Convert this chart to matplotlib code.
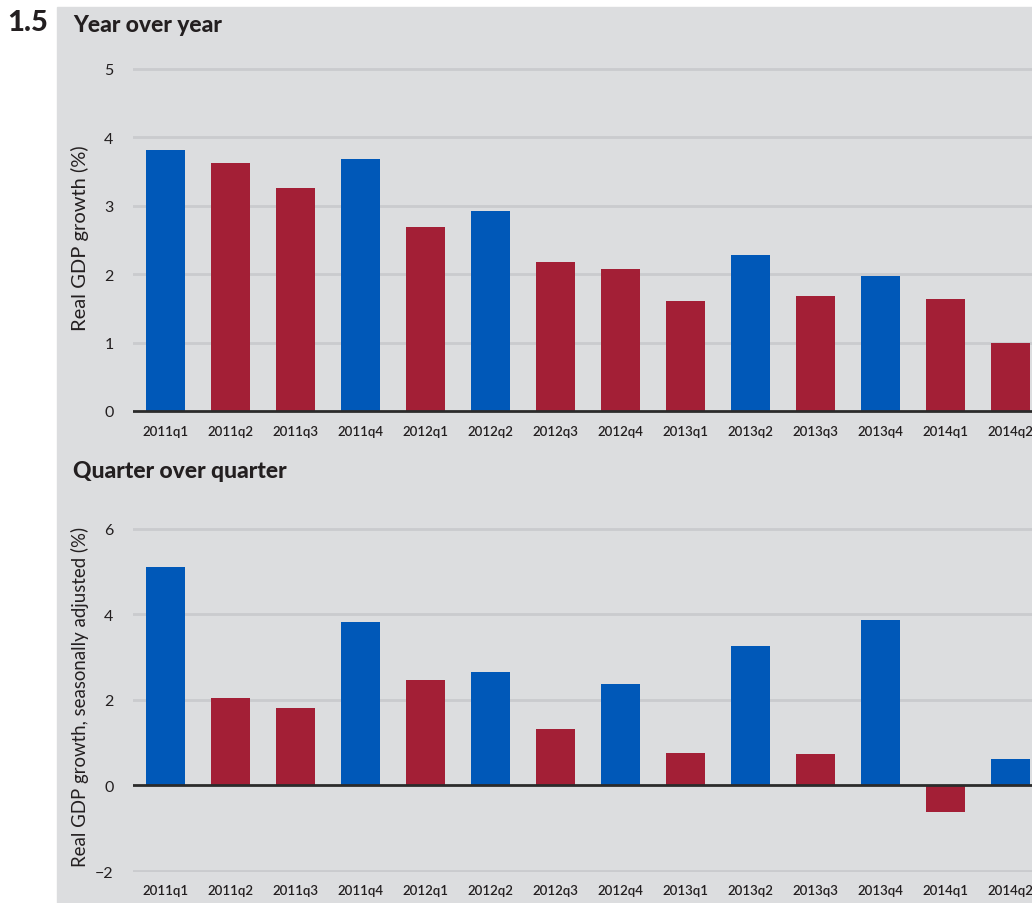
import numpy as np
import matplotlib.pyplot as plt
from matplotlib.patches import Rectangle

# quarters and growth rates
quarters = ['2011q1', '2011q2', '2011q3', '2011q4', '2012q1', '2012q2', '2012q3',
            '2012q4', '2013q1', '2013q2', '2013q3', '2013q4', '2014q1', '2014q2']
yoy = [3.82, 3.63, 3.26, 3.68, 2.69, 2.92, 2.18, 2.08, 1.61, 2.28, 1.68, 1.97, 1.64, 0.99]
qoq = [5.11, 2.04, 1.80, 3.82, 2.46, 2.65, 1.31, 2.37, 0.77, 3.26, 0.73, 3.86, -0.63, 0.61]

BLUE = '#0058b8'
RED = '#a31f36'
BG = '#dcdddf'
GRID = '#cacbce'
INK = '#231f20'
W, H = 1032, 904

plt.rcParams['font.family'] = ['Lato', 'DejaVu Sans']

fig = plt.figure(figsize=(W / 100, H / 100), dpi=100)
# grey panel
fig.patches.append(Rectangle((57 / W, 0), 1 - 57 / W, 1 - 8 / H,
                             transform=fig.transFigure, color=BG, zorder=-5))


def bar_colors(vals):
    # blue when growth picks up versus previous quarter
    out = [BLUE]
    for a, b in zip(vals[:-1], vals[1:]):
        out.append(BLUE if b >= a else RED)
    return out


def panel(top_px, bot_px, vals, ylim, yticks, ylabel, label_size):
    ax = fig.add_axes([133 / W, 1 - bot_px / H, 1 - 133 / W, (bot_px - top_px) / H])
    ax.set_facecolor('none')
    x = np.arange(len(vals))
    ax.bar(x, vals, width=0.6, color=bar_colors(vals), zorder=3)
    ax.set_xlim(-0.5, 13.33)
    ax.set_ylim(*ylim)
    ax.set_yticks(yticks)
    ax.set_yticklabels([str(t).replace('-', '\u2212') for t in yticks])
    ax.set_xticks(x)
    ax.set_xticklabels(quarters, fontsize=9.5, color=INK, fontweight='semibold')
    for t in yticks:
        if t != 0:
            ax.axhline(t, color=GRID, lw=2, zorder=1)
    ax.axhline(0, color='#2b2b2b', lw=2, zorder=4)
    for s in ax.spines.values():
        s.set_visible(False)
    ax.tick_params(length=0, pad=9)
    ax.tick_params(axis='y', labelsize=11.5, labelcolor=INK, pad=14)
    ax.set_ylabel(ylabel, fontsize=label_size, color=INK)
    ax.yaxis.set_label_coords(-0.049, 0.5)
    return ax


ax1 = panel(63, 414, yoy, (-0.03, 5.1), [0, 1, 2, 3, 4, 5], 'Real GDP growth (%)', 14.5)
ax2 = panel(521, 873, qoq, (-2.02, 6.2), [-2, 0, 2, 4, 6],
            'Real GDP growth, seasonally adjusted (%)', 13.4)

fig.text(7 / W, 1 - 23 / H, '1.5', fontsize=21, fontweight='black', va='center',
         color=INK)
fig.text(73 / W, 1 - 25 / H, 'Year over year', fontsize=16.5, fontweight='black',
         va='center', color=INK)
fig.text(73 / W, 1 - 472 / H, 'Quarter over quarter', fontsize=16.5, fontweight='black',
         va='center', color=INK)

fig.savefig('out.png', dpi=100)
